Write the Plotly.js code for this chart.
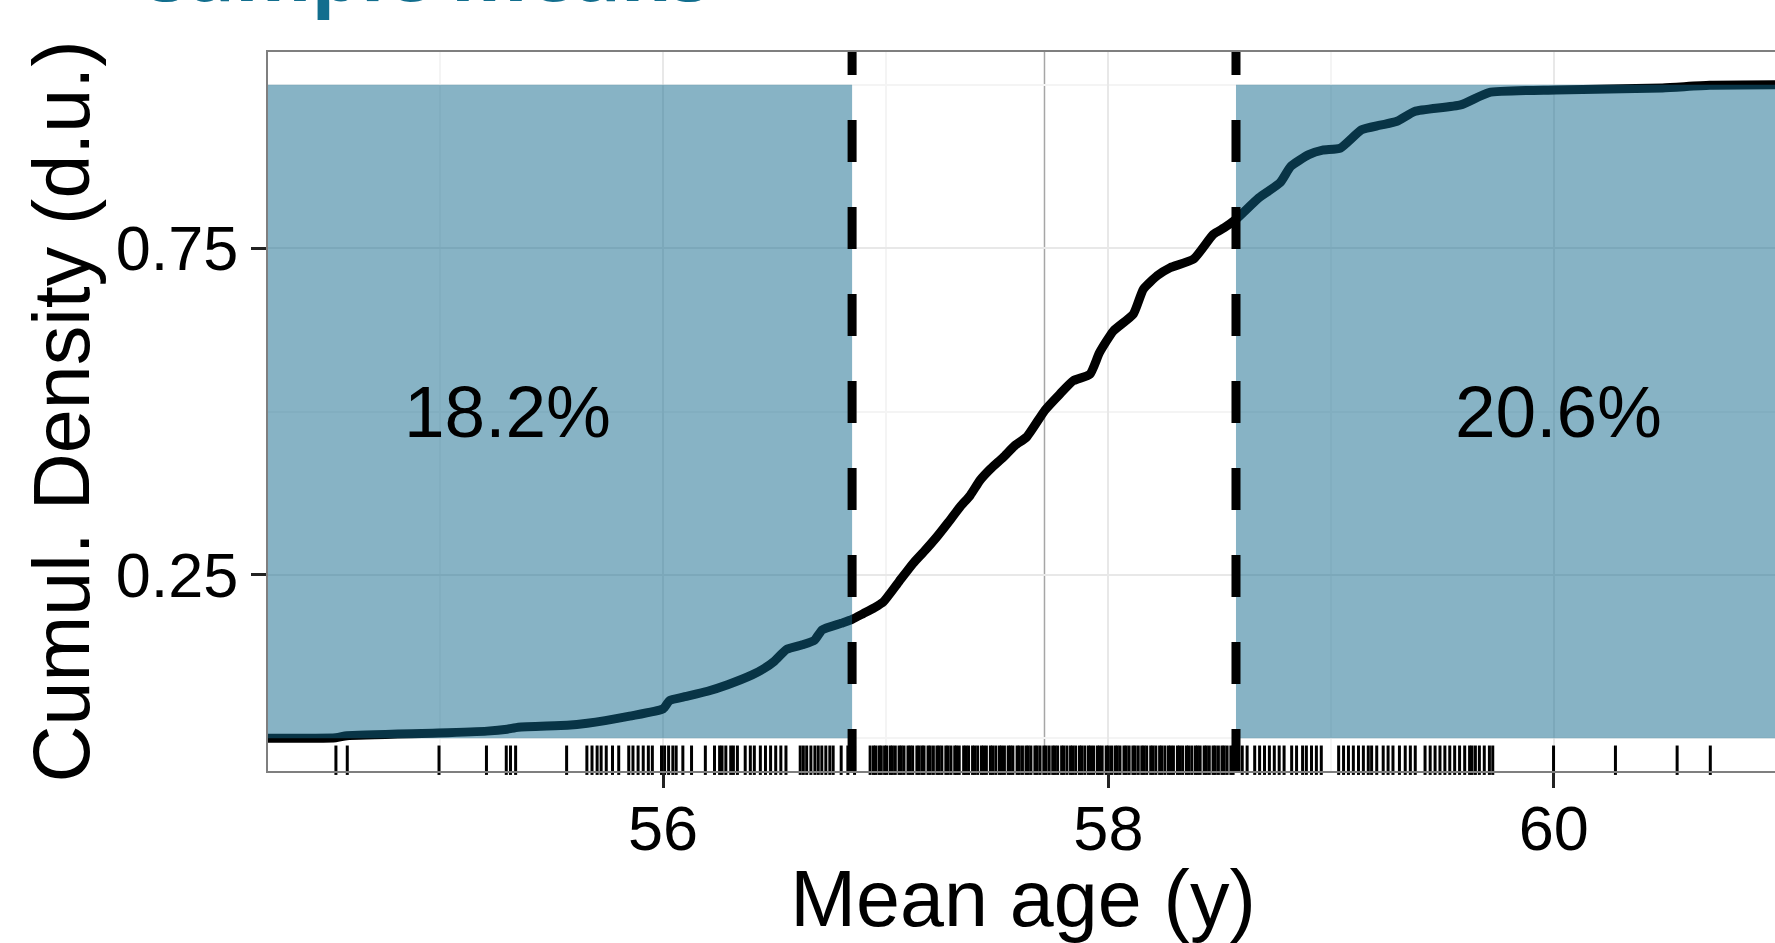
<!DOCTYPE html>
<html>
<head>
<meta charset="utf-8">
<script src="https://cdn.plot.ly/plotly-3.0.1.min.js"></script>
<style>
html, body { margin:0; padding:0; overflow:hidden; background:#fff; }
#chart { width:1790px; height:943px; }
</style>
</head>
<body>
<div id="chart"></div>
<script>
// ECDF curve of bootstrap sample means
const curveX = [54.0, 54.53, 54.58, 54.99, 55.21, 55.30, 55.35, 55.57, 55.66, 55.74, 55.85, 56.00, 56.03, 56.09, 56.20, 56.29, 56.40, 56.45, 56.50, 56.555, 56.626, 56.68, 56.715, 56.80, 56.849, 56.90, 56.95, 56.99, 57.06, 57.124, 57.17, 57.229, 57.28, 57.334, 57.38, 57.424, 57.47, 57.528, 57.58, 57.633, 57.715, 57.78, 57.842, 57.917, 57.96, 58.022, 58.112, 58.157, 58.22, 58.277, 58.382, 58.471, 58.52, 58.573, 58.676, 58.771, 58.819, 58.90, 58.962, 59.042, 59.137, 59.22, 59.296, 59.375, 59.582, 59.709, 60.011, 60.488, 60.70, 61.2];
const curveY = [0.000, 0.001, 0.004, 0.008, 0.011, 0.014, 0.017, 0.020, 0.023, 0.027, 0.034, 0.045, 0.058, 0.063, 0.072, 0.082, 0.097, 0.106, 0.118, 0.136, 0.143, 0.150, 0.166, 0.176, 0.182, 0.191, 0.200, 0.209, 0.240, 0.268, 0.285, 0.308, 0.330, 0.354, 0.372, 0.395, 0.412, 0.430, 0.448, 0.461, 0.502, 0.526, 0.547, 0.557, 0.590, 0.623, 0.649, 0.687, 0.708, 0.720, 0.733, 0.771, 0.781, 0.794, 0.827, 0.850, 0.875, 0.893, 0.900, 0.903, 0.931, 0.938, 0.944, 0.959, 0.969, 0.988, 0.992, 0.995, 0.999, 1.000];

// Rug: individual sample means
const rugValues = [54.531, 54.582, 54.994, 55.207, 55.296, 55.315, 55.338, 55.567, 55.658, 55.681, 55.704, 55.722, 55.745, 55.773, 55.801, 55.846, 55.865, 55.888, 55.911, 55.934, 55.952, 55.993, 56.007, 56.025, 56.044, 56.059, 56.089, 56.128, 56.190, 56.231, 56.254, 56.265, 56.282, 56.304, 56.316, 56.334, 56.369, 56.392, 56.410, 56.437, 56.460, 56.483, 56.506, 56.529, 56.552, 56.616, 56.630, 56.645, 56.664, 56.682, 56.697, 56.713, 56.731, 56.749, 56.764, 56.80, 56.83, 56.86,
 56.930, 56.945, 56.955, 56.97, 56.98, 56.995, 57.004, 57.02, 57.03, 57.043, 57.06, 57.07, 57.082, 57.10, 57.11, 57.121, 57.14, 57.15, 57.163, 57.172, 57.19, 57.20, 57.214, 57.23, 57.24, 57.252, 57.27, 57.28, 57.293, 57.31, 57.318, 57.33, 57.35, 57.36, 57.372, 57.39, 57.40, 57.413, 57.43, 57.44, 57.452, 57.47, 57.48, 57.494, 57.51, 57.52, 57.533, 57.55, 57.56, 57.571, 57.59, 57.60, 57.614, 57.63, 57.64, 57.652, 57.67, 57.68, 57.693, 57.71, 57.72, 57.734, 57.75, 57.76, 57.772, 57.79, 57.80, 57.814, 57.83, 57.84, 57.853, 57.87, 57.88, 57.894, 57.91, 57.92, 57.933, 57.95, 57.96, 57.972, 57.99, 58.00, 58.014, 58.03, 58.04, 58.052, 58.07, 58.08, 58.093, 58.11, 58.12, 58.134, 58.15, 58.16, 58.172, 58.19, 58.20, 58.213, 58.23, 58.24, 58.254, 58.27, 58.28, 58.292, 58.31, 58.32, 58.333, 58.35, 58.36, 58.374, 58.39, 58.40, 58.412, 58.43, 58.44, 58.453, 58.47, 58.48, 58.494, 58.51, 58.52, 58.533, 58.55, 58.56,
 58.601, 58.623, 58.657, 58.679, 58.701, 58.723, 58.745, 58.767, 58.789, 58.823, 58.845, 58.872, 58.889, 58.912, 58.934, 58.956, 59.034, 59.056, 59.078, 59.100, 59.123, 59.145, 59.167, 59.182, 59.205, 59.234, 59.256, 59.278, 59.307, 59.333, 59.356, 59.378, 59.422, 59.445, 59.467, 59.489, 59.511, 59.533, 59.555, 59.577, 59.600, 59.622, 59.633, 59.648, 59.666, 59.688, 59.711, 59.726, 59.999, 60.277, 60.554, 60.703];

// Interval bounds and tail percentages
const lowerBound = 56.849;
const upperBound = 58.573;
const centerLine = 57.713;
const tailLabels = ["18.2%", "20.6%"];
const tailLabelX = [55.30, 60.02];
const tailLabelY = [0.5, 0.5];

const xTicks = [56, 58, 60];
const xMinor = [55, 57, 59, 61];
const yTicks = [0.25, 0.75];
const yTickText = ["0.25", "0.75"];
const yMinor = [0, 0.5, 1];

const xRange = [54.226, 61.007];
const yRange = [-0.05, 1.05];
const rugY = yRange[0] + 0.015 * (yRange[1] - yRange[0]);

const FONT = "Liberation Sans, Arial, sans-serif";
const fillCol = "rgba(16,104,140,0.5)";

const traces = [
  {
    x: curveX, y: curveY, type: "scatter", mode: "lines",
    line: {color: "#000", width: 9, shape: "spline", smoothing: 0.5},
    hoverinfo: "skip", showlegend: false
  },
  {
    x: rugValues, y: rugValues.map(() => rugY), type: "scatter", mode: "markers",
    marker: {symbol: "line-ns-open", size: 21, color: "#000", line: {color: "#000", width: 3}},
    hoverinfo: "skip", showlegend: false, cliponaxis: false
  }
];

const shapes = [
  {type: "line", xref: "x", yref: "paper", x0: centerLine, x1: centerLine, y0: 0, y1: 1,
   line: {color: "#a6a6a6", width: 1.5}, layer: "below"},
  {type: "rect", xref: "x", yref: "y", x0: 50, x1: lowerBound, y0: 0, y1: 1,
   fillcolor: fillCol, line: {width: 0}, layer: "above"},
  {type: "rect", xref: "x", yref: "y", x0: upperBound, x1: 65, y0: 0, y1: 1,
   fillcolor: fillCol, line: {width: 0}, layer: "above"},
  {type: "line", xref: "x", yref: "paper", x0: lowerBound, x1: lowerBound, y0: 0, y1: 1,
   line: {color: "#000", width: 9, dash: "42px,45px"}, layer: "above"},
  {type: "line", xref: "x", yref: "paper", x0: upperBound, x1: upperBound, y0: 0, y1: 1,
   line: {color: "#000", width: 9, dash: "42px,45px"}, layer: "above"}
];

const annotations = tailLabels.map((t, i) => ({
  x: tailLabelX[i], y: tailLabelY[i], xref: "x", yref: "y", text: t, showarrow: false,
  font: {family: FONT, size: 73, color: "#000"}, xanchor: "center", yanchor: "middle"
}));
annotations.push({
  x: (147 - 268) / 1510, y: 1.0355, xref: "paper", yref: "paper", xanchor: "left", yanchor: "bottom",
  text: "<b>sample means</b>", showarrow: false,
  font: {family: "Open Sans, sans-serif", size: 78, color: "rgb(18,110,142)"}
});

const layout = {
  width: 1790, height: 943,
  margin: {l: 268, r: 12, t: 52, b: 172, pad: 0},
  paper_bgcolor: "#fff", plot_bgcolor: "#fff",
  showlegend: false,
  xaxis: {
    range: xRange, tickvals: xTicks, ticktext: xTicks.map(String),
    ticks: "outside", ticklen: 15, tickwidth: 3, tickcolor: "#222",
    tickfont: {family: FONT, size: 63, color: "#000"},
    ticklabelstandoff: -14,
    showgrid: true, gridcolor: "#e8e8e8", gridwidth: 2,
    minor: {tickvals: xMinor, showgrid: true, gridcolor: "#f4f4f4", gridwidth: 2, ticks: ""},
    showline: true, mirror: true, linecolor: "#7f7f7f", linewidth: 2,
    zeroline: false,
    title: {text: "Mean age (y)", font: {family: FONT, size: 79, color: "#000"}, standoff: 24}
  },
  yaxis: {
    range: yRange, tickvals: yTicks, ticktext: yTickText,
    ticks: "outside", ticklen: 15, tickwidth: 3, tickcolor: "#222",
    tickfont: {family: FONT, size: 63, color: "#000"},
    showgrid: true, gridcolor: "#e8e8e8", gridwidth: 2,
    minor: {tickvals: yMinor, showgrid: true, gridcolor: "#f4f4f4", gridwidth: 2, ticks: ""},
    showline: true, mirror: true, linecolor: "#7f7f7f", linewidth: 2,
    zeroline: false,
    title: {text: "Cumul. Density (d.u.)", font: {family: FONT, size: 79, color: "#000"}, standoff: 0}
  },
  shapes: shapes,
  annotations: annotations
};

Plotly.newPlot("chart", traces, layout, {displayModeBar: false, staticPlot: true});
</script>
</body>
</html>
